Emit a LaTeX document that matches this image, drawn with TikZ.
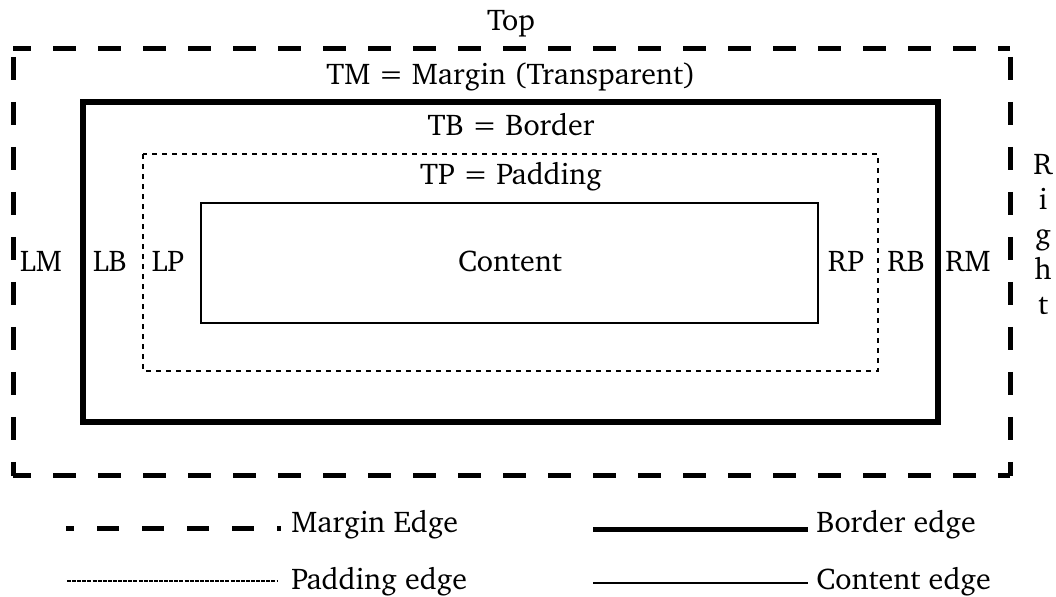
\documentclass[tikz,border=0pt]{standalone}
\usepackage[T1]{fontenc}
\usepackage{charter}
\usetikzlibrary{positioning}

\tikzset{
    lbl/.style={anchor=base, inner sep=0pt},
    hmargin/.style={line width=2.25pt, dash pattern=on 10.35pt off 9.9pt, dash phase=2.25pt},
    vmargin/.style={line width=2.25pt, dash pattern=on 10.35pt off 9.9pt, dash phase=16.65pt},
    borderedge/.style={line width=2.5pt},
    paddingedge/.style={line width=0.7pt, dash pattern=on 2.25pt off 2.25pt},
    contentedge/.style={line width=0.8pt}
}

\begin{document}
\begin{tikzpicture}[x=0.45pt, y=-0.45pt, font=\fontsize{13.5}{16}\selectfont]
    \useasboundingbox (0,0) rectangle (1056,597);

    % the four boxes
    \draw[hmargin] (13,49) -- (1010,49);
    \draw[hmargin] (13,476) -- (1010,476);
    \draw[vmargin] (13,49) -- (13,476);
    \draw[vmargin] (1010,49) -- (1010,476);
    \draw[borderedge] (83,102) rectangle (938,422);
    \draw[paddingedge] (143,154) rectangle (878,371);
    \draw[contentedge] (201,203) rectangle (818,323);

    \node[lbl] (top) at (511,31) {Top};
    \node[lbl] (tm) at (511,85) {TM = Margin (Transparent)};
    \node[lbl] (tb) at (511,136) {TB = Border};
    \node[lbl] (tp) at (511,185) {TP = Padding};
    \node[lbl] (content) at (510,272) {Content};
    \foreach \n/\x in {LM/41,LB/110,LP/168,RP/846,RB/906,RM/968}
        \node[lbl] (\n) at (\x,272) {\n};
    \foreach \ch [count=\i] in {R,i,g,h,t}
        \node[lbl] (right\i) at (1043,140+35*\i) {\ch};

    % legend
    \coordinate (ms) at (66,529);
    \coordinate (me) at (281,529);
    \coordinate (ps) at (67,581);
    \coordinate (pe) at (278,581);
    \coordinate (bs) at (593,529.5);
    \coordinate (be) at (808,529.5);
    \coordinate (cs) at (593,583);
    \coordinate (ce) at (808,583);
    \draw[line width=2.25pt, dash pattern=on 9.9pt off 10.35pt, dash phase=6.3pt] (ms) -- (me);
    \draw[line width=0.5pt, dash pattern=on 1.8pt off 0.5pt] (ps) -- (pe);
    \draw[borderedge] (bs) -- (be);
    \draw[line width=1pt] (cs) -- (ce);
    \node[lbl, anchor=base west] (mlabel) at (291,533) {Margin Edge};
    \node[lbl, anchor=base west] (plabel) at (291,590) {Padding edge};
    \node[lbl, anchor=base west] (blabel) at (816,533) {Border edge};
    \node[lbl, anchor=base west] (clabel) at (816,590) {Content edge};
\end{tikzpicture}
\end{document}
